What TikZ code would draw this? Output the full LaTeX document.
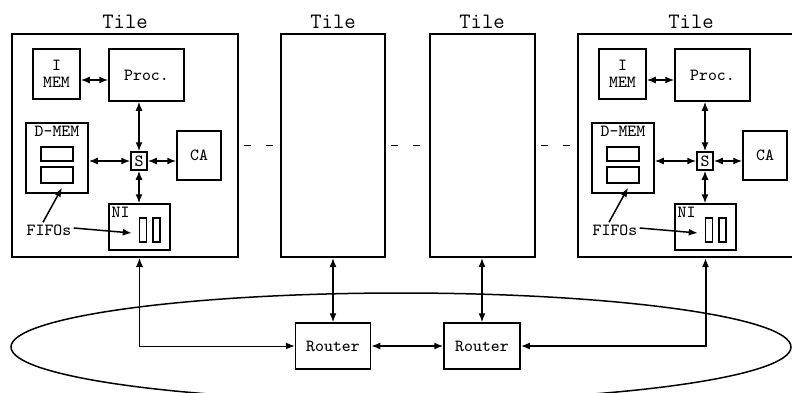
\documentclass[tikz,border=0pt]{standalone}
\usepackage{fontspec}
\tikzset{every picture/.style={/utils/exec={\ttfamily}}}
\usetikzlibrary{arrows.meta}
\usetikzlibrary{positioning}
\usetikzlibrary{shapes.geometric}

\tikzset{
  tilebox/.style={draw, line width=1pt, minimum height=111.5pt, inner sep=0pt,
    label={[font=\fontsize{11}{12}\selectfont, inner sep=2pt]above:Tile}},
  part/.style={draw, line width=0.75pt, inner sep=0pt, align=center, font=\fontsize{8.5}{8.5}\selectfont},
  fifo/.style={draw, line width=0.75pt, inner sep=0pt},
  link/.style={{Latex[length=4.5pt,width=3.5pt]}-{Latex[length=4.5pt,width=3.5pt]}, line width=0.75pt},
  pointer/.style={-{Latex[length=4.5pt,width=3.5pt]}, line width=0.75pt},
  gap/.style={line width=0.75pt, dash pattern=on 3.5pt off 7.5pt, dash phase=8.5pt},
}

\begin{document}
\begin{tikzpicture}[x=0.5pt, y=-0.5pt]
  \useasboundingbox (0,0) rectangle (792,392);
  \clip (0,0) rectangle (792,392);

  % tiles with processor, memories and network interface
  \foreach \i/\dx in {1/0, 4/566} {
    \begin{scope}[shift={(\dx,0)}]
      \node [tilebox, minimum width=113pt] (tile\i) at (125,145.5) {};
      \node [part, minimum width=23.5pt, minimum height=25pt] (imem\i) at (56.5,74) {I\\MEM};
      \node [part, minimum width=37.5pt, minimum height=26pt] (proc\i) at (146.5,75) {Proc.};
      \node [part, minimum width=31pt, minimum height=35pt,
        label={[font=\fontsize{8.5}{8.5}\selectfont, anchor=north, inner sep=1.5pt]north:D-MEM}] (dmem\i) at (57,158) {};
      \node [fifo, minimum width=16pt, minimum height=7pt] (fifoa\i) at (57,154) {};
      \node [fifo, minimum width=16pt, minimum height=8pt] (fifob\i) at (57,175) {};
      \node [part, minimum width=8pt, minimum height=9pt] (s\i) at (139,161) {S};
      \node [part, minimum width=22pt, minimum height=24.5pt] (ca\i) at (199,155.5) {CA};
      \node [part, minimum width=30.5pt, minimum height=23pt,
        label={[font=\fontsize{8.5}{8.5}\selectfont, anchor=north west, inner sep=1.5pt]north west:NI}] (ni\i) at (139.5,227) {};
      \node [fifo, minimum width=3.5pt, minimum height=12pt] (nia\i) at (143,230) {};
      \node [fifo, minimum width=3.5pt, minimum height=12pt] (nib\i) at (156.5,230) {};
      \node [font=\fontsize{8.5}{8.5}\selectfont, inner sep=1pt] (fifos\i) at (49,230) {FIFOs};

      \draw [link] ([yshift=-3pt]imem\i.east) -- ([yshift=-3pt]imem\i.east -| proc\i.west);
      \draw [link] (s\i) -- (s\i |- proc\i.south);
      \draw [link] (s\i) -- (s\i -| dmem\i.east);
      \draw [link] (s\i) -- (s\i -| ca\i.west);
      \draw [link] (s\i) -- (s\i |- ni\i.north);
      \draw [pointer] ([xshift=-3pt]fifos\i.north) -- ([xshift=2.5pt,yshift=-2pt]fifob\i.south);
      \draw [pointer] ([yshift=1pt]fifos\i.east) -- ([xshift=-3.5pt,yshift=-1.5pt]nia\i.west);
    \end{scope}
  }

  % empty tiles in between
  \node [tilebox, minimum width=52pt] (tile2) at (333,145.5) {};
  \node [tilebox, minimum width=52.5pt] (tile3) at (482,145.5) {};

  \draw [gap] (tile1.east) -- (tile2.west);
  \draw [gap] (tile2.east) -- (tile3.west);
  \draw [gap] (tile3.east) -- (tile4.west);

  % ring network
  \node [draw, ellipse, line width=0.75pt, minimum width=390pt, minimum height=54pt] (ring) at (401,347) {};

  \node [part, minimum width=37.5pt, minimum height=23pt] (router1) at (333,346) {Router};
  \node [part, minimum width=38pt, minimum height=23pt] (router2) at (482,346) {Router};

  \draw [link] (tile2.south) -- (router1.north);
  \draw [link] (tile3.south) -- (router2.north);
  \draw [link] (router1) -- (router2);
  \draw [link, line width=0.5pt] (ni1 |- tile1.south) |- (router1);
  \draw [link, line width=1pt] (ni4 |- tile4.south) |- (router2);
\end{tikzpicture}
\end{document}
